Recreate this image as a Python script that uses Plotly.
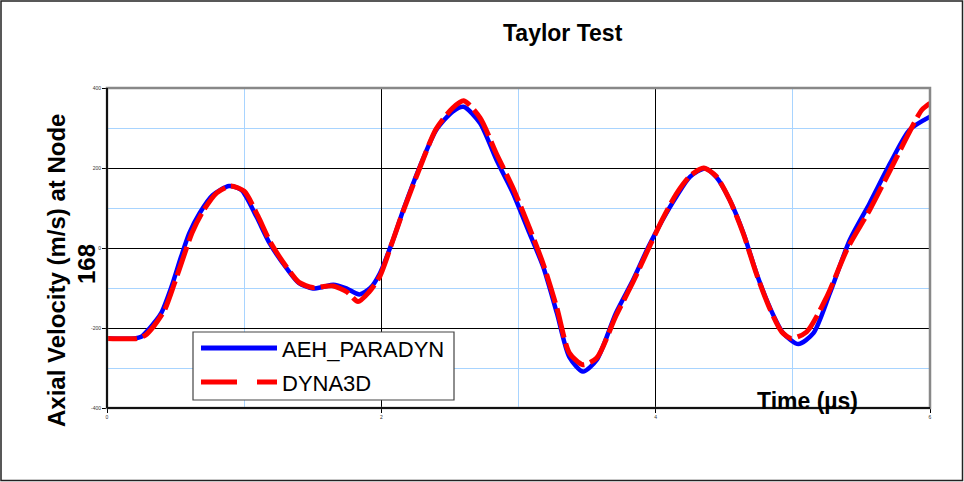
import plotly.graph_objects as go

# ---- data ----
aeh_t = [0, 0.2, 0.25, 0.31, 0.395, 0.47, 0.54, 0.60, 0.675, 0.77, 0.89, 0.98, 1.09, 1.185,
         1.31, 1.40, 1.50, 1.58, 1.65, 1.745, 1.84, 1.92, 1.99, 2.085, 2.16, 2.28, 2.40, 2.52,
         2.60, 2.72, 2.84, 2.96, 3.08, 3.18, 3.28, 3.37, 3.47, 3.57, 3.71, 3.835, 3.95, 4.05,
         4.15, 4.25, 4.36, 4.44, 4.54, 4.64, 4.735, 4.83, 4.93, 5.04, 5.15, 5.27, 5.415, 5.56,
         5.71, 5.85, 6.0]
aeh_v = [-226, -226, -222, -201, -163, -97, -22, 37, 87, 132, 155, 145, 78, 12,
         -51, -88, -101, -97, -92, -101, -116, -100, -63, 20, 95, 203, 295, 341,
         353, 312, 220, 137, 37, -47, -163, -272, -309, -280, -163, -80, 5, 70,
         128, 178, 199, 178, 120, 37, -63, -147, -213, -240, -213, -113, 20, 112,
         212, 295, 328]

dyna_t = [0, 0.22, 0.28, 0.34, 0.42, 0.49, 0.56, 0.62, 0.70, 0.80, 0.90, 1.00, 1.10, 1.19,
          1.31, 1.40, 1.50, 1.58, 1.65, 1.75, 1.83, 1.91, 1.99, 2.08, 2.16, 2.28, 2.40, 2.52,
          2.60, 2.72, 2.84, 2.96, 3.08, 3.18, 3.28, 3.37, 3.47, 3.57, 3.71, 3.835, 3.95, 4.05,
          4.15, 4.25, 4.35, 4.44, 4.54, 4.64, 4.735, 4.83, 4.92, 4.99, 5.10, 5.25, 5.40, 5.56,
          5.71, 5.85, 5.94, 6.0]
dyna_v = [-226, -226, -218, -196, -155, -90, -20, 38, 92, 138, 155, 142, 80, 15,
          -48, -86, -99, -96, -95, -110, -134, -110, -70, 15, 93, 200, 298, 350,
          368, 325, 235, 150, 50, -40, -150, -262, -292, -275, -170, -85, 0, 72,
          135, 180, 200, 180, 120, 35, -65, -150, -210, -226, -210, -120, 0, 95,
          195, 290, 345, 362]

x_ticks = [0, 2, 4, 6]
y_ticks = [-400, -200, 0, 200, 400]
series_names = ["AEH_PARADYN", "DYNA3D"]

# ---- layout geometry ----
W, H = 964, 482
L, R, T, B = 107, 34, 88, 74
PW, PH = W - L - R, H - T - B


def px(x):
    return (x - L) / PW


def py(y):
    return (H - B - y) / PH


FONT = "Arial, Liberation Sans, sans-serif"

fig = go.Figure()
fig.add_trace(go.Scatter(x=aeh_t, y=aeh_v, mode="lines", name=series_names[0],
                         line=dict(color="#0000FF", width=4.5, shape="spline", smoothing=0.7),
                         showlegend=False))
fig.add_trace(go.Scatter(x=dyna_t, y=dyna_v, mode="lines", name=series_names[1],
                         line=dict(color="#FF0000", width=5, dash="30px,6px",
                                   shape="spline", smoothing=0.7),
                         showlegend=False))

axis_common = dict(showline=False, zeroline=False, ticks="outside", ticklen=4,
                   tickcolor="black", tickwidth=1,
                   tickfont=dict(size=5, color="#333333", family=FONT),
                   gridcolor="black", gridwidth=1)

fig.update_xaxes(range=[0, 6], tickvals=x_ticks, ticktext=[str(v) for v in x_ticks],
                 minor=dict(dtick=1, showgrid=True, gridcolor="#A8D4FF", gridwidth=1, ticks=""),
                 **axis_common)
fig.update_yaxes(range=[-400, 400], tickvals=y_ticks, ticktext=[str(v) for v in y_ticks],
                 minor=dict(dtick=100, showgrid=True, gridcolor="#A8D4FF", gridwidth=1, ticks=""),
                 **axis_common)

shapes = []
# outer figure border
shapes.append(dict(type="rect", xref="paper", yref="paper",
                   x0=px(1), x1=px(962.5), y0=py(480.5), y1=py(1),
                   line=dict(color="#222222", width=1.5)))
# plot frame (grey top/right)
shapes.append(dict(type="rect", xref="paper", yref="paper", x0=0, x1=1, y0=0, y1=1,
                   line=dict(color="#888888", width=2.5), layer="above"))
# black left/bottom axis lines
shapes.append(dict(type="line", xref="paper", yref="paper", x0=0, x1=0, y0=0, y1=1,
                   line=dict(color="#111111", width=2), layer="above"))
shapes.append(dict(type="line", xref="paper", yref="paper", x0=0, x1=1, y0=0, y1=0,
                   line=dict(color="#111111", width=2), layer="above"))
# legend box
shapes.append(dict(type="rect", xref="paper", yref="paper",
                   x0=px(193), x1=px(454), y0=py(400), y1=py(332),
                   fillcolor="white", line=dict(color="#444444", width=1.2), layer="above"))
shapes.append(dict(type="line", xref="paper", yref="paper",
                   x0=px(201), x1=px(277), y0=py(348), y1=py(348),
                   line=dict(color="#0000FF", width=5), layer="above"))
shapes.append(dict(type="line", xref="paper", yref="paper",
                   x0=px(201), x1=px(237), y0=py(382), y1=py(382),
                   line=dict(color="#FF0000", width=5), layer="above"))
shapes.append(dict(type="line", xref="paper", yref="paper",
                   x0=px(257), x1=px(277), y0=py(382), y1=py(382),
                   line=dict(color="#FF0000", width=5), layer="above"))

annotations = [
    dict(text=series_names[0], xref="paper", yref="paper", x=px(280), y=py(349),
         xanchor="left", yanchor="middle", showarrow=False,
         font=dict(family=FONT, size=22, color="black")),
    dict(text=series_names[1], xref="paper", yref="paper", x=px(280), y=py(383),
         xanchor="left", yanchor="middle", showarrow=False,
         font=dict(family=FONT, size=22, color="black")),
    dict(text="<b>Taylor Test</b>", xref="paper", yref="paper", x=px(563), y=py(33),
         xanchor="center", yanchor="middle", showarrow=False,
         font=dict(family=FONT, size=23, color="black")),
    dict(text="<b>Axial Velocity (m/s) at Node</b>", xref="paper", yref="paper",
         x=px(56), y=py(271), xanchor="center", yanchor="middle", textangle=-90,
         showarrow=False, font=dict(family=FONT, size=24, color="black")),
    dict(text="<b>168</b>", xref="paper", yref="paper",
         x=px(86), y=py(264), xanchor="center", yanchor="middle", textangle=-90,
         showarrow=False, font=dict(family=FONT, size=24, color="black")),
    dict(text="<b>Time (µs)</b>", xref="paper", yref="paper",
         x=px(807.5), y=py(401), xanchor="center", yanchor="middle",
         showarrow=False, font=dict(family=FONT, size=23, color="black")),
]

fig.update_layout(width=W, height=H, margin=dict(l=L, r=R, t=T, b=B),
                  paper_bgcolor="white", plot_bgcolor="white",
                  shapes=shapes, annotations=annotations, showlegend=False,
                  font=dict(family=FONT))

fig.write_html("out.html", config={"displayModeBar": False},
               post_script="document.body.style.margin='0';document.body.style.overflow='hidden';")
